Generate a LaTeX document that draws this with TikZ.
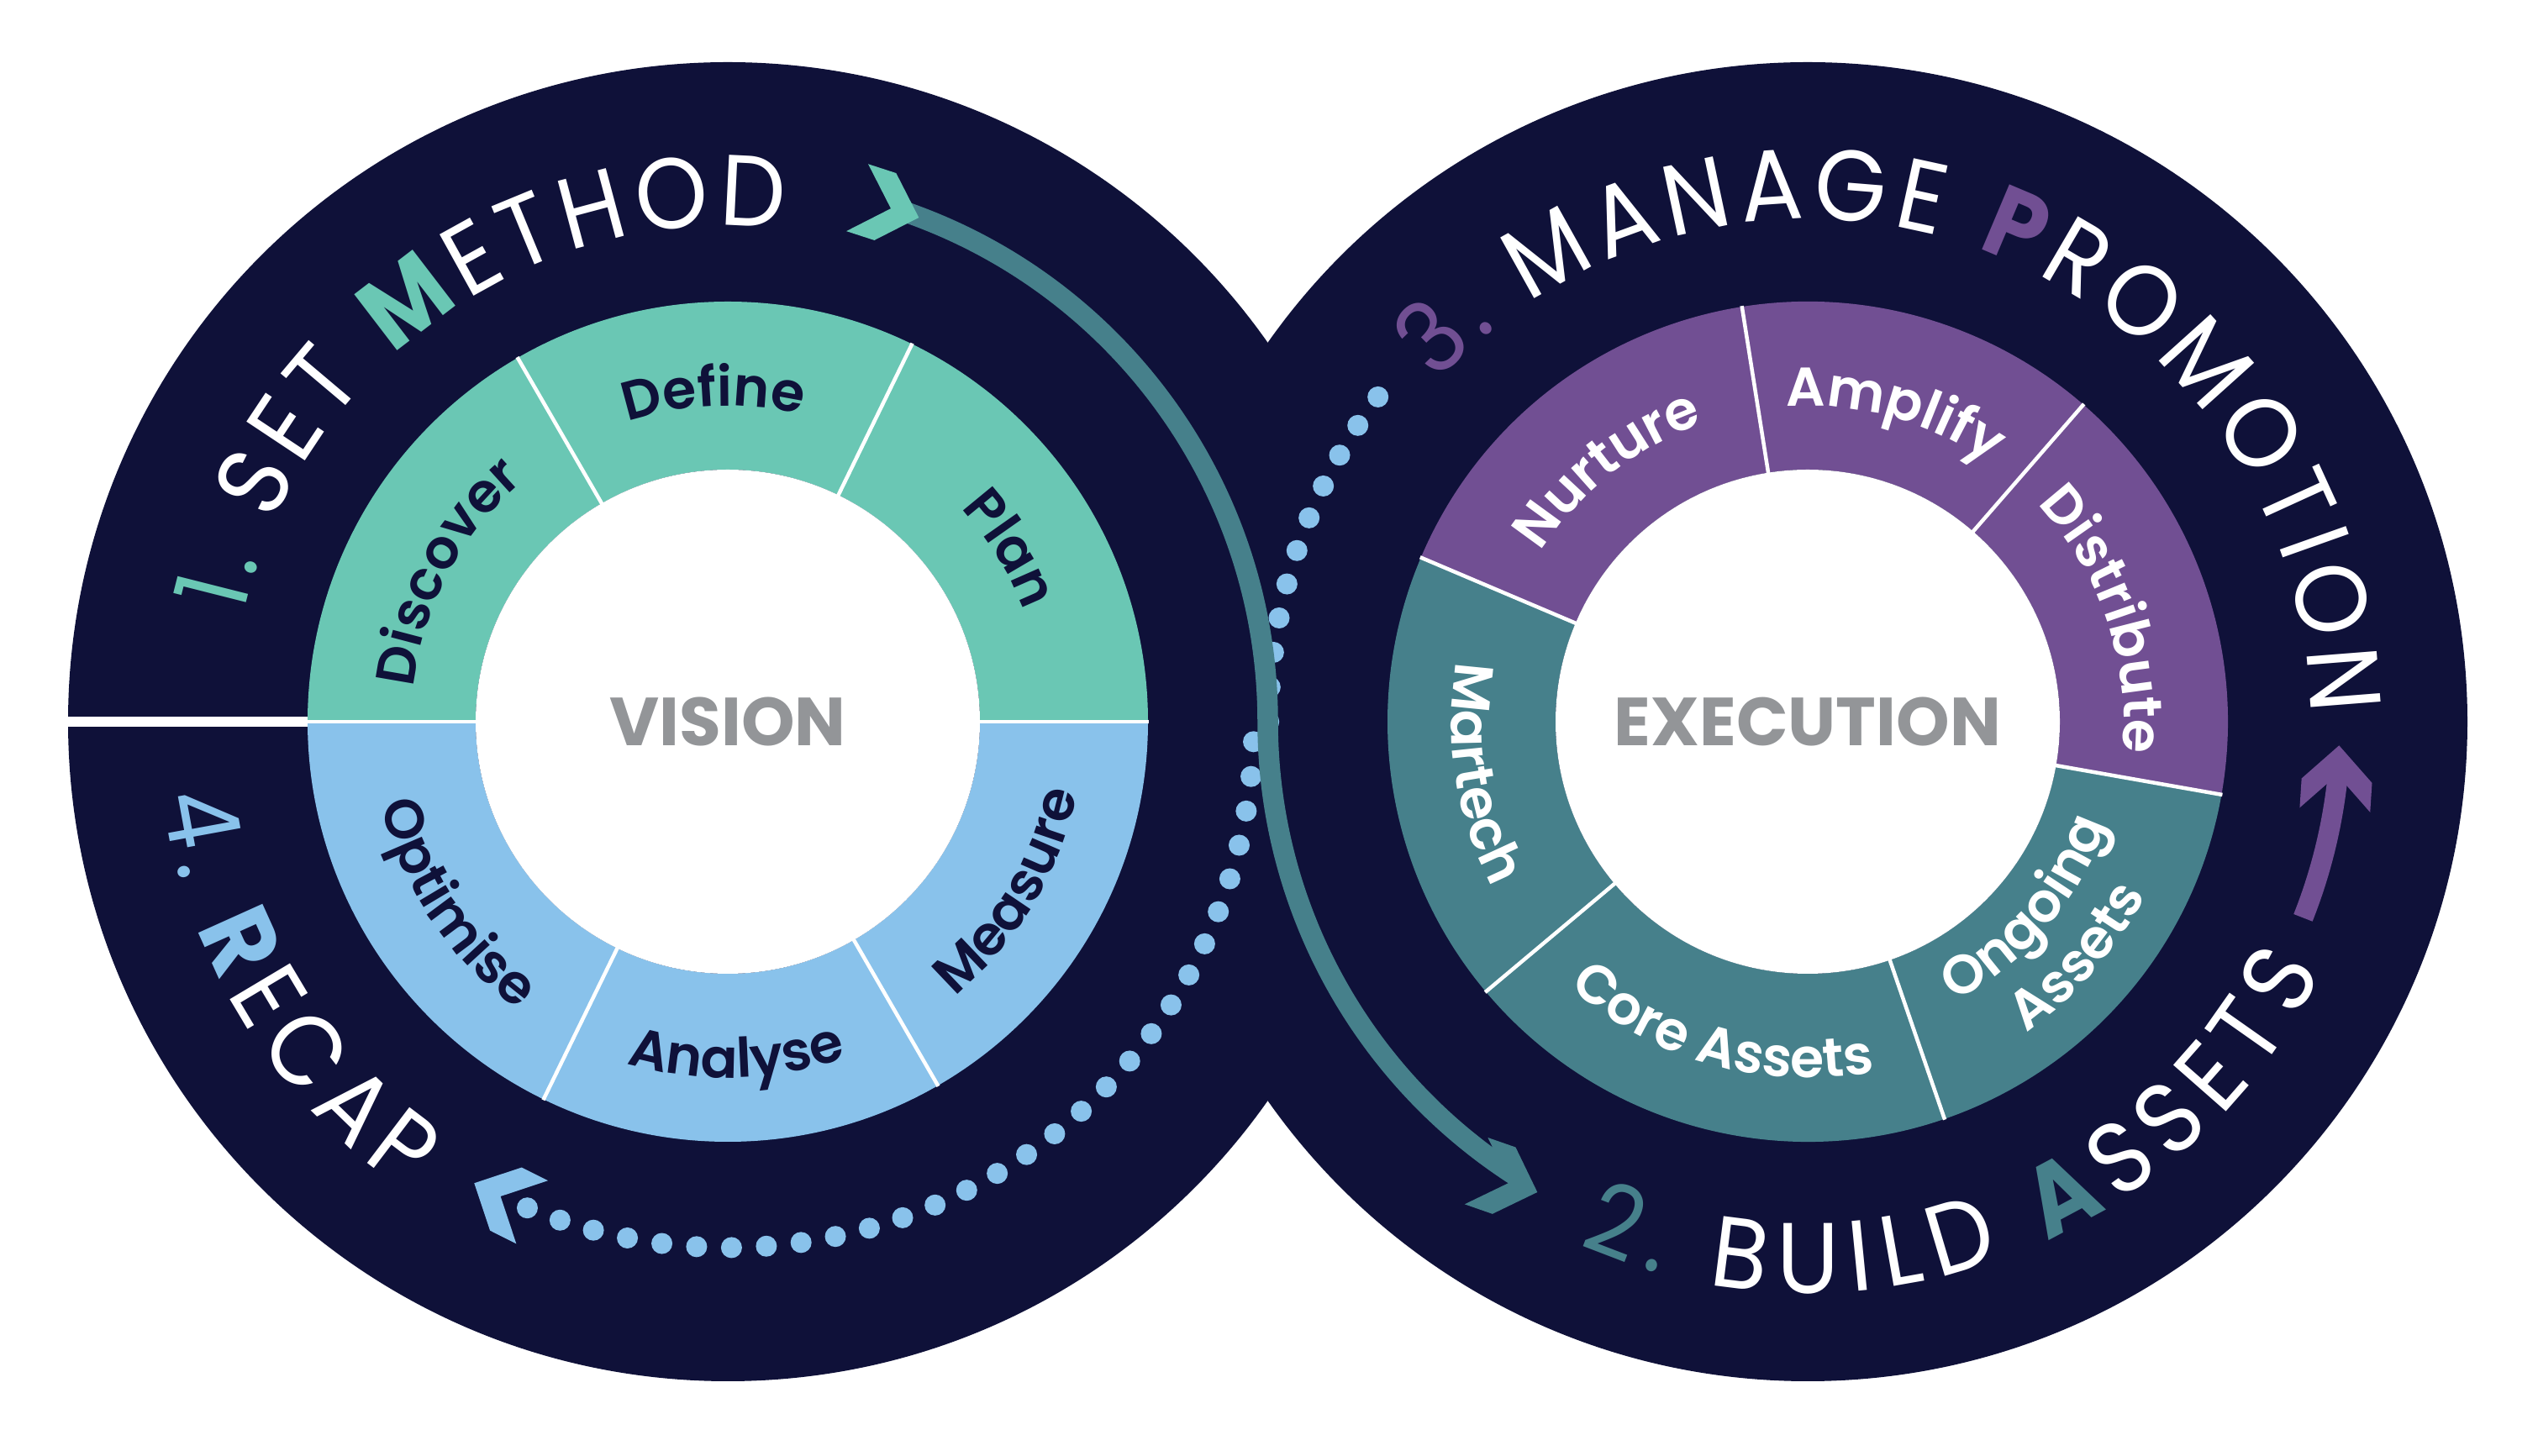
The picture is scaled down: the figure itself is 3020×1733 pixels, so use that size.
\documentclass[tikz,border=0pt]{standalone}
\usepackage{fontspec}
\setmainfont{Poppins}
\newfontfamily\ttlfam{Poppins}[FakeStretch=0.92]
\IfFontExistsTF{Poppins SemiBold}{\newfontfamily\labfam{Poppins SemiBold}}{\newcommand\labfam{\bfseries}}
\usetikzlibrary{calc,decorations.text}
\definecolor{navy}{HTML}{0F1139}
\definecolor{lteal}{HTML}{6AC7B4}
\definecolor{dteal}{HTML}{46808B}
\definecolor{lblue}{HTML}{89C2EB}
\definecolor{purp}{HTML}{714F93}
\definecolor{greyt}{HTML}{939598}
\newcommand\TW{\ttlfam\fontsize{34}{40}\selectfont\color{white}}
\newcommand\TC[1]{\ttlfam\fontsize{34}{40}\selectfont\color{#1}}
\newcommand\TB[1]{\ttlfam\bfseries\fontsize{34}{40}\selectfont\color{#1}}
\newcommand\LN{\labfam\fontsize{18.5}{20}\selectfont\color{navy}}
\newcommand\LW{\labfam\fontsize{18.5}{20}\selectfont\color{white}}
\newcommand\ringsect[4]{\fill[#4] ($(#1)+(#2:300)$) arc[start angle=#2,end angle=#3,radius=300] -- ($(#1)+(#3:500)$) arc[start angle=#3,end angle=#2,radius=500] -- cycle;}
\newcommand\ringsep[2]{\draw[white,line width=0.045cm] ($(#1)+(#2:299)$) -- ($(#1)+(#2:501)$);}
\newcommand\cwlabel[5]{\path[decorate,decoration={text along path,text align=center,text={|#4|#5}}] ($(#1)+(#2+40:#3)$) arc[start angle=#2+40,end angle=#2-40,radius=#3];}
\newcommand\ccwlabel[5]{\path[decorate,decoration={text along path,text align=center,text={|#4|#5}}] ($(#1)+(#2-40:#3)$) arc[start angle=#2-40,end angle=#2+40,radius=#3];}
\newcommand\chev[3]{\begin{scope}[shift={#1},rotate=#2]\fill[#3] (0,0) -- (-42,42) -- (-77,42) -- (-35,0) -- (-77,-42) -- (-42,-42) -- cycle;\end{scope}}
\begin{document}
\begin{tikzpicture}[x=0.01cm,y=0.01cm]
\useasboundingbox (0,0) rectangle (3020,1733);
\fill[white] (0,0) rectangle (3020,1733);
\coordinate (L) at (866,874);
\coordinate (R) at (2151,874);
% big circles
\fill[navy] (L) circle[radius=785];
\fill[navy] (R) circle[radius=785];
\draw[white,line width=0.12cm] ($(L)+(180:500)$) -- ($(L)+(180:787)$);
% left ring
\ringsect{L}{0}{180}{lteal}
\ringsect{L}{180}{360}{lblue}
\fill[white] (L) circle[radius=300];
\foreach \a in {0,64,120,180,244,300}{\ringsep{L}{\a}}
% right ring
\ringsect{R}{-10}{157}{purp}
\ringsect{R}{157}{350}{dteal}
\fill[white] (R) circle[radius=300];
\foreach \a in {157,99,49,-10,-71,220}{\ringsep{R}{\a}}
% centre words
\node[font=\bfseries\fontsize{23}{25}\selectfont,text=greyt] (vision) at (L) {VISION};
\node[font=\bfseries\fontsize{23}{25}\selectfont,text=greyt] (execution) at (R) {EXECUTION};
% ring labels left
\cwlabel{L}{152}{376}{\LN}{Discover}
\cwlabel{L}{92.5}{376}{\LN}{Define}
\cwlabel{L}{31.5}{376}{\LN}{Plan}
\ccwlabel{L}{-31}{424}{\LN}{Measure}
\ccwlabel{L}{-88.5}{424}{\LN}{Analyse}
\ccwlabel{L}{213.7}{424}{\LN}{Optimise}
% ring labels right
\cwlabel{R}{128.4}{376}{\LW}{Nurture}
\cwlabel{R}{74.3}{376}{\LW}{Amplify}
\cwlabel{R}{19}{376}{\LW}{Distribute}
\ccwlabel{R}{-40.5}{376}{\LW}{Ongoing}
\ccwlabel{R}{-41}{452}{\LW}{Assets}
\ccwlabel{R}{-105.6}{424}{\LW}{Core Assets}
\ccwlabel{R}{189}{424}{\LW}{Martech}
% titles
\path[decorate,decoration={text along path,text align=fit to path,
  text={|\TC{lteal}|1. |\TW|SET |\TB{lteal}|M|\TW|ETHOD}}]
  ($(L)+(167.5:590)$) arc[start angle=167.5,end angle=83.5,radius=590];
\path[decorate,decoration={text along path,text align=fit to path,
  text={|\TC{purp}|3. |\TW|MANAGE |\TB{purp}|P|\TW|ROMOTION}}]
  ($(R)+(137.5:598)$) arc[start angle=137.5,end angle=0.8,radius=598];
\path[decorate,decoration={text along path,text align=fit to path,
  text={|\TC{dteal}|2. |\TW|BUILD |\TB{dteal}|A|\TW|SSETS}}]
  ($(R)+(246.4:680)$) arc[start angle=246.4,end angle=334,radius=680];
\path[decorate,decoration={text along path,text align=fit to path,
  text={|\TC{lblue}|4. |\TB{lblue}|R|\TW|ECAP}}]
  ($(L)+(187.5:678)$) arc[start angle=187.5,end angle=235.5,radius=678];
% connector end points
\coordinate (dotA) at ($(L)+(-112.4:626)$);
\coordinate (dotB) at ($(R)+(180:641)$);
\coordinate (tealA) at ($(L)+(71.5:642.5)$);
\coordinate (purA) at ($(R)+(-21.6:634)$);
\coordinate (chevT) at (1093.3,1474);
\coordinate (headT) at (1829.3,314);
\coordinate (chevB) at (564.3,324.7);
\coordinate (headP) at (2783.3,845.7);
% dotted connector 3 -> 4
\draw[lblue,line width=0.25cm,line cap=round,dash pattern=on 0pt off 0.415cm]
  (dotA) arc[start angle=-112.4,end angle=0,radius=626] -- (dotB) arc[start angle=180,end angle=141,radius=641];
% teal connector 1 -> 2
\draw[dteal,line width=0.245cm] (tealA) arc[start angle=71.5,end angle=0,radius=642.5] arc[start angle=180,end angle=237.5,radius=642.5];
% purple connector 2 -> 3
\draw[purp,line width=0.24cm] (purA) arc[start angle=-21.6,end angle=-5,radius=634];
% chevrons / heads
\chev{(chevT)}{-18}{lteal}
\chev{(headT)}{-19.2}{dteal}
\chev{(chevB)}{153.4}{lblue}
\chev{(headP)}{86.3}{purp}
\end{tikzpicture}
\end{document}
